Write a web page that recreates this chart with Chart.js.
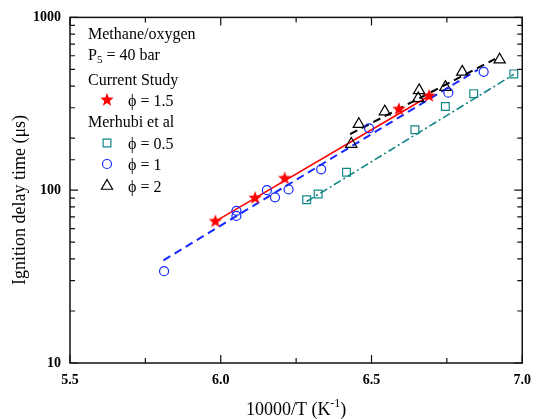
<!DOCTYPE html>
<html>
<head>
<meta charset="utf-8">
<script src="https://cdn.jsdelivr.net/npm/chart.js@4/dist/chart.umd.min.js"></script>
<style>
  body { margin: 0; background: #fff; }
  #wrap { width: 540px; height: 419px; }
</style>
</head>
<body>
<div id="wrap"><canvas id="myChart"></canvas></div>
<script>
// axis ticks
const xTicks = [5.5, 6.0, 6.5, 7.0]
const xMinorTicks = [5.75, 6.25, 6.75]
const yTicks = [10, 100, 1000]

// current study, phi = 1.5
const studyX = [5.982, 6.114, 6.212, 6.591, 6.691]
const studyY = [66, 90, 117, 294, 351]
const studyFitX = [5.982, 6.691]
const studyFitY = [66, 351]

// Merhubi et al
const phi05X = [6.285, 6.323, 6.417, 6.644, 6.745, 6.839, 6.972]
const phi05Y = [88, 95, 127, 224, 305, 362, 471]
const phi05FitX = [6.285, 6.972]
const phi05FitY = [86, 468]

const phi1X = [5.812, 6.052, 6.052, 6.153, 6.180, 6.225, 6.333, 6.492, 6.755, 6.872]
const phi1Y = [34, 76, 71, 100, 91, 101, 132, 228, 367, 484]
const phi1FitX = [5.81, 6.853]
const phi1FitY = [39.3, 499]

const phi2X = [6.433, 6.458, 6.544, 6.655, 6.658, 6.745, 6.801, 6.925]
const phi2Y = [185, 241, 285, 340, 378, 395, 484, 569]
const phi2FitX = [6.429, 6.91]
const phi2FitY = [211, 575]

const RED = '#ff0000'
const TEAL = '#128686'
const BLUE = '#1428ff'
const BLACK = '#000000'
const SERIF = '"Liberation Serif", "Times New Roman", serif'

function pts(xs, ys) {
    return xs.map((x, i) => ({ x: x, y: ys[i] }))
}

function makeStar(r, color) {
    const c = document.createElement('canvas')
    const size = Math.ceil(r * 2 + 2)
    c.width = c.height = size
    const g = c.getContext('2d')
    g.fillStyle = color
    g.beginPath()
    for (let i = 0; i < 10; i++) {
        const rad = i % 2 ? r * 0.42 : r
        const a = -Math.PI / 2 + i * Math.PI / 5
        g.lineTo(size / 2 + rad * Math.cos(a), size / 2 + rad * Math.sin(a))
    }
    g.closePath()
    g.fill()
    return c
}
const star = makeStar(7, RED)

function fitLine(xs, ys, color, dash, width) {
    return {
        data: pts(xs, ys), showLine: true, pointRadius: 0,
        borderColor: color, borderWidth: width, borderDash: dash, order: 2
    }
}

function marker(xs, ys, style, radius, color) {
    return {
        data: pts(xs, ys), showLine: false, pointStyle: style, pointRadius: radius,
        borderColor: color, backgroundColor: 'rgba(0,0,0,0)', pointBorderWidth: 1.2, order: 1
    }
}

// frame, inward ticks, titles and the text legend
const decor = {
    id: 'decor',
    afterDraw(chart) {
        const { ctx, chartArea: a, scales: { x, y } } = chart
        ctx.save()
        ctx.strokeStyle = '#111'
        ctx.lineWidth = 1.5
        ctx.strokeRect(a.left, a.top, a.right - a.left, a.bottom - a.top)
        ctx.lineWidth = 1.2
        ctx.beginPath()
        const tickX = (v, len) => {
            const px = x.getPixelForValue(v)
            ctx.moveTo(px, a.bottom); ctx.lineTo(px, a.bottom - len)
            ctx.moveTo(px, a.top); ctx.lineTo(px, a.top + len)
        }
        xTicks.forEach(v => tickX(v, 8))
        xMinorTicks.forEach(v => tickX(v, 5))
        y.ticks.forEach(t => {
            const py = y.getPixelForValue(t.value)
            const len = yTicks.includes(t.value) ? 8 : 5
            ctx.moveTo(a.left, py); ctx.lineTo(a.left + len, py)
            ctx.moveTo(a.right, py); ctx.lineTo(a.right - len, py)
        })
        ctx.stroke()

        // axis titles
        ctx.fillStyle = BLACK
        ctx.font = '18px ' + SERIF
        ctx.textBaseline = 'middle'
        ctx.textAlign = 'center'
        ctx.save()
        ctx.translate(20, 200)
        ctx.rotate(-Math.PI / 2)
        ctx.fillText('Ignition delay time (\u03bcs)', 0, 0)
        ctx.restore()

        const t1 = '10000/T (K', t2 = '-1', t3 = ')'
        ctx.textAlign = 'left'
        const w1 = ctx.measureText(t1).width, w3 = ctx.measureText(t3).width
        ctx.font = '12px ' + SERIF
        const w2 = ctx.measureText(t2).width
        let sx = (a.left + a.right) / 2 - (w1 + w2 + w3) / 2
        const ty = 410
        ctx.font = '18px ' + SERIF
        ctx.fillText(t1, sx, ty)
        ctx.font = '12px ' + SERIF
        ctx.fillText(t2, sx + w1, ty - 6)
        ctx.font = '18px ' + SERIF
        ctx.fillText(t3, sx + w1 + w2, ty)

        // legend
        const lx = 88, mx = 107, tx = 128, dy = 1.5
        ctx.font = '16px ' + SERIF
        ctx.fillText('Methane/oxygen', lx, 33 + dy)
        ctx.fillText('P', lx, 54 + dy)
        const wp = ctx.measureText('P').width
        ctx.font = '11px ' + SERIF
        ctx.fillText('5', lx + wp, 59 + dy)
        const w5 = ctx.measureText('5').width
        ctx.font = '16px ' + SERIF
        ctx.fillText(' = 40 bar', lx + wp + w5, 54 + dy)
        ctx.fillText('Current Study', lx, 79 + dy)
        ctx.fillText('\u03d5 = 1.5', tx, 100 + dy)
        ctx.fillText('Merhubi et al', lx, 121 + dy)
        ctx.fillText('\u03d5 = 0.5', tx, 143 + dy)
        ctx.fillText('\u03d5 = 1', tx, 164 + dy)
        ctx.fillText('\u03d5 = 2', tx, 186 + dy)

        ctx.drawImage(star, mx - star.width / 2, 100 - star.height / 2)
        const dp = Chart.helpers && Chart.helpers.drawPoint
        ctx.lineWidth = 1.2
        const mk = (style, r, color, py) => {
            ctx.strokeStyle = color
            ctx.fillStyle = 'rgba(0,0,0,0)'
            if (dp) dp(ctx, { pointStyle: style, radius: r, borderWidth: 1.2, rotation: 0 }, mx, py)
        }
        mk('rect', 5.5, TEAL, 143)
        mk('circle', 4.5, BLUE, 164)
        mk('triangle', 6.5, BLACK, 186)
        ctx.restore()
    }
}

const ctx = document.getElementById('myChart').getContext('2d')
const myChart = new Chart(ctx, {
    type: 'scatter',
    data: {
        datasets: [
            fitLine(studyFitX, studyFitY, RED, [], 1.6),
            fitLine(phi05FitX, phi05FitY, TEAL, [8, 3, 2, 3], 1.6),
            fitLine(phi1FitX, phi1FitY, BLUE, [8, 5], 2),
            fitLine(phi2FitX, phi2FitY, BLACK, [8, 5], 2),
            marker(phi05X, phi05Y, 'rect', 5.5, TEAL),
            marker(phi1X, phi1Y, 'circle', 4.5, BLUE),
            marker(phi2X, phi2Y, 'triangle', 6.5, BLACK),
            marker(studyX, studyY, star, 7, RED)
        ]
    },
    options: {
        responsive: true,
        maintainAspectRatio: false,
        animation: false,
        devicePixelRatio: 1,
        layout: { padding: { top: 14, right: 8, left: 0, bottom: 0 } },
        plugins: { legend: { display: false }, tooltip: { enabled: false } },
        scales: {
            x: {
                type: 'linear', min: 5.5, max: 7.0,
                grid: { display: false, drawTicks: false }, border: { display: false },
                afterBuildTicks: s => { s.ticks = xTicks.map(v => ({ value: v })) },
                afterFit: s => { s.height = 56 },
                ticks: {
                    padding: 9, color: BLACK, autoSkip: false, maxRotation: 0,
                    font: { family: SERIF, size: 14, weight: 'bold' },
                    callback: v => v.toFixed(1)
                }
            },
            y: {
                type: 'logarithmic', min: 10, max: 1000,
                grid: { display: false, drawTicks: false }, border: { display: false },
                afterFit: s => { s.width = 70 },
                ticks: {
                    padding: 9, color: BLACK, autoSkip: false,
                    font: { family: SERIF, size: 14, weight: 'bold' },
                    callback: v => yTicks.includes(v) ? String(v) : ''
                }
            }
        }
    },
    plugins: [decor]
})
</script>
</body>
</html>
